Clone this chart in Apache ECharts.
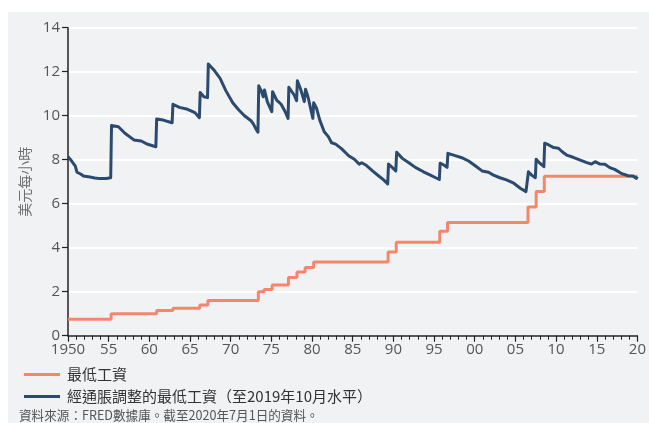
<!DOCTYPE html>
<html>
<head>
<meta charset="utf-8">
<script src="https://cdn.jsdelivr.net/npm/echarts@6/dist/echarts.min.js"></script>
<style>
html, body { margin: 0; padding: 0; background: #fff; }
#main { width: 649px; height: 423px; }
</style>
</head>
<body>
<div id="main"></div>
<script>
// 名目最低工資（變動時點, 新水平）
const minWageYears = [1950, 1955.3, 1960.9, 1962.9, 1966.2, 1967.2, 1973.4, 1974.1, 1975.1, 1977.1, 1978.15, 1979.15, 1980.2, 1989.35, 1990.35, 1995.7, 1996.65, 2006.55, 2007.55, 2008.55, 2020];
const minWageValues = [0.75, 1.00, 1.15, 1.25, 1.40, 1.60, 2.00, 2.10, 2.30, 2.65, 2.90, 3.10, 3.35, 3.80, 4.25, 4.75, 5.15, 5.85, 6.55, 7.25, 7.25];

// 經通脹調整的最低工資（至2019年10月水平）
const realYears = [1950, 1950.45, 1950.9, 1951.1, 1951.55, 1951.9, 1952.7, 1953.3, 1953.9, 1954.7, 1955.25,
  1955.35, 1956.2, 1957.0, 1958.1, 1959.0, 1959.8, 1960.8,
  1960.9, 1961.7, 1962.8,
  1962.9, 1963.7, 1964.7, 1965.6, 1966.15,
  1966.25, 1966.7, 1967.15,
  1967.25, 1968.0, 1968.7, 1969.4, 1970.25, 1971.0, 1971.7, 1972.5, 1972.8, 1973.1, 1973.35,
  1973.45, 1973.8, 1974.0, 1974.15, 1974.5, 1975.05,
  1975.15, 1975.65, 1976.2, 1976.7, 1977.05,
  1977.15, 1977.8, 1978.1,
  1978.2, 1978.6, 1979.05,
  1979.2, 1979.5, 1980.1,
  1980.2, 1980.55, 1980.95, 1981.5, 1982.0, 1982.4, 1982.9, 1983.65, 1984.5, 1985.2, 1985.8, 1986.1, 1986.6, 1987.4, 1988.2, 1988.8, 1989.3,
  1989.4, 1989.85, 1990.3,
  1990.4, 1991.1, 1991.9, 1992.7, 1993.7, 1994.55, 1995.2, 1995.65,
  1995.75, 1996.2, 1996.6,
  1996.7, 1997.4, 1998.4, 1999.25, 2000.1, 2000.9, 2001.7, 2002.3, 2003.1, 2003.9, 2004.8, 2005.6, 2006.3, 2006.5,
  2006.6, 2007.0, 2007.45,
  2007.55, 2008.0, 2008.5,
  2008.6, 2009.1, 2009.7, 2010.3, 2010.75, 2011.3, 2012.1, 2012.9, 2013.7, 2014.35, 2014.8, 2015.4, 2016.0, 2016.6, 2017.2, 2018.0, 2018.85, 2019.45, 2019.85, 2020];
const realValues = [8.14, 7.94, 7.71, 7.43, 7.35, 7.26, 7.21, 7.17, 7.14, 7.15, 7.18,
  9.55, 9.50, 9.20, 8.90, 8.85, 8.70, 8.59,
  9.85, 9.80, 9.68,
  10.52, 10.38, 10.29, 10.14, 9.91,
  11.05, 10.86, 10.82,
  12.35, 12.05, 11.70, 11.14, 10.59, 10.26, 10.00, 9.77, 9.62, 9.40, 9.25,
  11.36, 11.09, 10.86, 11.17, 10.64, 10.18,
  11.09, 10.71, 10.52, 10.18, 9.88,
  11.29, 10.94, 10.68,
  11.59, 11.20, 10.64,
  11.20, 10.86, 9.88,
  10.59, 10.34, 9.80, 9.27, 9.05, 8.77, 8.71, 8.49, 8.18, 8.02, 7.80, 7.86, 7.76, 7.50, 7.26, 7.08, 6.90,
  7.80, 7.65, 7.49,
  8.34, 8.06, 7.86, 7.65, 7.45, 7.30, 7.18, 7.10,
  7.84, 7.76, 7.65,
  8.29, 8.21, 8.09, 7.94, 7.71, 7.49, 7.43, 7.30, 7.18, 7.08, 6.93, 6.70, 6.55, 6.47,
  7.45, 7.30, 7.18,
  8.02, 7.84, 7.68,
  8.75, 8.67, 8.55, 8.52, 8.36, 8.21, 8.11, 7.99, 7.88, 7.80, 7.91, 7.80, 7.79, 7.64, 7.56, 7.38, 7.27, 7.26, 7.15, 7.23];

const yTicks = [0, 2, 4, 6, 8, 10, 12, 14];

const minWageData = minWageYears.map((y, i) => [y, minWageValues[i]]);
const realData = realYears.map((y, i) => [y, realValues[i]]);

const labelFont = '"Open Sans", "Noto Sans", sans-serif';

let myChart = echarts.init(document.getElementById('main'));
myChart.setOption({
    backgroundColor: '#ffffff',
    animation: false,
    graphic: [
        {
            type: 'rect',
            z: -10,
            silent: true,
            shape: { x: 8, y: 12, width: 660, height: 430 },
            style: { fill: '#f0f2f4' }
        },
        {
            type: 'text',
            left: 19,
            top: 409,
            style: {
                text: '資料來源：FRED數據庫。截至2020年7月1日的資料。',
                fill: '#555555',
                font: '12.6px "Noto Sans CJK TC", sans-serif'
            }
        }
    ],
    legend: {
        orient: 'vertical',
        left: 19,
        top: 362,
        itemGap: 7,
        itemWidth: 36,
        itemHeight: 3,
        icon: 'rect',
        textStyle: { color: '#333333', fontSize: 15, fontFamily: '"Noto Sans CJK TC", sans-serif', padding: [0, 0, 0, 2] },
        data: ['最低工資', '經通脹調整的最低工資（至2019年10月水平）']
    },
    grid: {
        left: 68,
        right: 9,
        top: 27.7,
        bottom: 87.3,
        containLabel: false
    },
    xAxis: {
        type: 'value',
        min: 1950,
        max: 2020,
        interval: 5,
        axisLine: { show: true, lineStyle: { color: '#222', width: 1.5 } },
        axisTick: { show: true, length: 6, lineStyle: { color: '#222', width: 1.2 } },
        minorTick: { show: true, splitNumber: 5, length: 4, lineStyle: { color: '#222', width: 1 } },
        splitLine: { show: false },
        axisLabel: {
            color: '#555555',
            fontSize: 15,
            fontFamily: labelFont,
            margin: 7,
            formatter: v => v === 1950 ? '1950' : String(v % 100).padStart(2, '0')
        }
    },
    yAxis: {
        type: 'value',
        min: yTicks[0],
        max: yTicks[yTicks.length - 1],
        interval: 2,
        name: '美元每小時',
        nameLocation: 'middle',
        nameRotate: 90,
        nameGap: 36,
        nameTextStyle: { color: '#707070', fontSize: 14, fontFamily: '"Noto Sans CJK TC", sans-serif' },
        axisLine: { show: true, lineStyle: { color: '#222', width: 1.5 } },
        axisTick: { show: true, length: 6, lineStyle: { color: '#222', width: 1.2 } },
        splitLine: { show: true, lineStyle: { color: '#ffffff', width: 2 } },
        axisLabel: { color: '#555555', fontSize: 15, fontFamily: labelFont, margin: 8 }
    },
    series: [
        {
            name: '最低工資',
            type: 'line',
            step: 'end',
            showSymbol: false,
            symbol: 'none',
            color: '#f5866b',
            lineStyle: { width: 3, color: '#f5866b' },
            data: minWageData,
            z: 2
        },
        {
            name: '經通脹調整的最低工資（至2019年10月水平）',
            type: 'line',
            showSymbol: false,
            symbol: 'none',
            color: '#2c4a6e',
            lineStyle: { width: 3, color: '#2c4a6e', join: 'round' },
            data: realData,
            z: 3
        }
    ]
});
</script>
</body>
</html>
